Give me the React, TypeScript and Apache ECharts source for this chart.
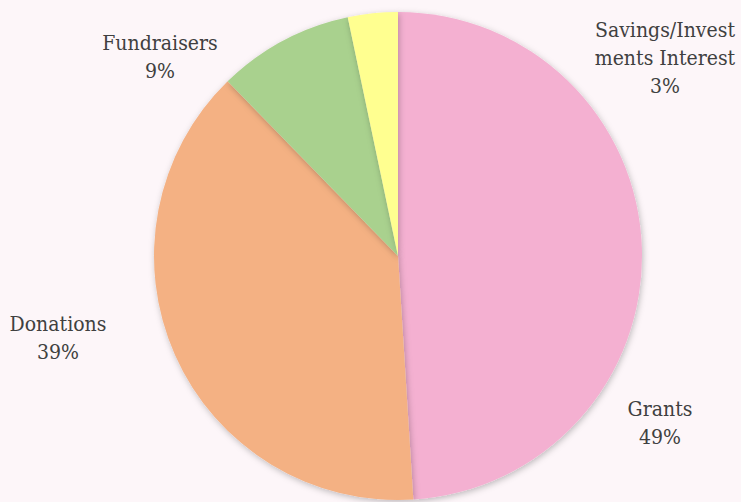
import React, { useEffect, useRef } from "react";
import * as echarts from "echarts";

const categories = ["Grants", "Donations", "Fundraisers", "Savings/Investments Interest"];
const values = [49.0, 38.7, 9.0, 3.3];
const colors = ["#F4B0D1", "#F4B183", "#A9D18E", "#FFFF90"];
// label centre positions (pixels) as placed in the reference
const labelPos = [
  [660, 423],
  [58, 338],
  [160, 57],
  [665, 58],
];

function wrap(name: string): string {
  if (name.length <= 14) return name;
  const parts: string[] = [];
  for (let i = 0; i < name.length; i += 14) parts.push(name.slice(i, i + 14));
  return parts.join("\n");
}

export default function App() {
  const ref = useRef<HTMLDivElement>(null);
  useEffect(() => {
    if (!ref.current) return;
    const chart = echarts.init(ref.current, undefined, { renderer: "svg" });
    chart.setOption({
      animation: false,
      backgroundColor: "#FDF6F9",
      series: [
        {
          type: "pie",
          center: [398, 256],
          radius: 244,
          startAngle: 90,
          clockwise: true,
          data: categories.map((c, i) => ({
            name: c,
            value: values[i],
            itemStyle: { color: colors[i] },
          })),
          itemStyle: {
            shadowBlur: 6,
            shadowColor: "rgba(0,0,0,0.25)",
            shadowOffsetX: 1,
            shadowOffsetY: 2,
          },
          label: {
            show: true,
            position: "outside",
            formatter: (p: any) => wrap(p.name) + "\n" + Math.round(p.percent) + "%",
            fontFamily: "DejaVu Serif Condensed, DejaVu Serif",
            fontSize: 21,
            lineHeight: 28,
            color: "#404040",
            align: "center",
            overflow: "none",
          },
          labelLine: { show: false },
          labelLayout: (params: any) => {
            const pos = labelPos[params.dataIndex];
            return {
              x: pos[0],
              y: pos[1],
              align: "center",
              verticalAlign: "middle",
            };
          },
          emphasis: { disabled: true },
        },
      ],
    });
    return () => chart.dispose();
  }, []);
  return (
    <div
      ref={ref}
      style={{ position: "fixed", left: 0, top: 0, width: 741, height: 502 }}
    />
  );
}
